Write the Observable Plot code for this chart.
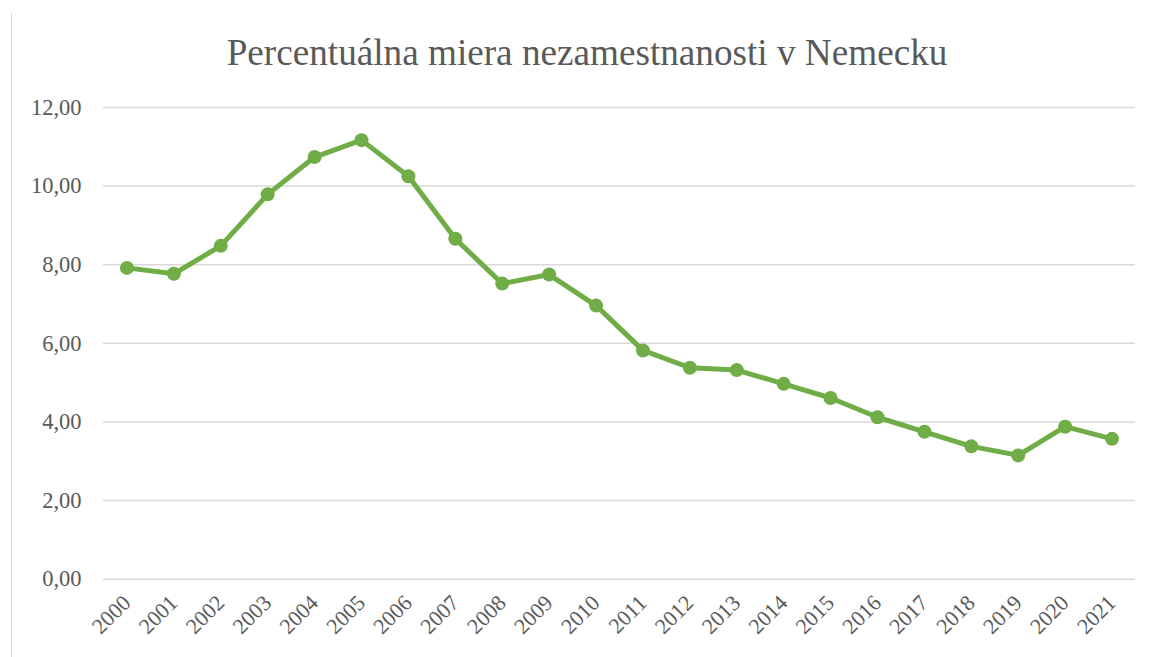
<!DOCTYPE html>
<html>
<head>
<meta charset="utf-8">
<script src="https://cdn.jsdelivr.net/npm/d3@7"></script>
<script src="https://cdn.jsdelivr.net/npm/@observablehq/plot@0.6"></script>
<style>
  html, body { margin: 0; padding: 0; background: #fff; }
  #wrap { position: relative; width: 1154px; height: 657px; overflow: hidden; background: #fff; }
  #border { position: absolute; left: 10.5px; top: 13px; width: 0; height: 660px; border-left: 1.3px solid #d9d9d9; }
  #title { position: absolute; left: 0; width: 1174px; top: 30px; text-align: center;
           font-family: "Liberation Serif", "Times New Roman", serif; font-size: 37.2px; color: #595959; line-height: 46px; }
  #chart { position: absolute; left: 0; top: 85px; }
</style>
</head>
<body>
<div id="wrap">
  <div id="border"></div>
  <div id="title">Percentuálna miera nezamestnanosti v Nemecku</div>
  <div id="chart"></div>
</div>
<script>
const years = ["2000","2001","2002","2003","2004","2005","2006","2007","2008","2009","2010","2011","2012","2013","2014","2015","2016","2017","2018","2019","2020","2021"];
const rates = [7.92, 7.77, 8.48, 9.79, 10.74, 11.17, 10.25, 8.66, 7.52, 7.75, 6.96, 5.82, 5.38, 5.32, 4.97, 4.61, 4.12, 3.75, 3.38, 3.15, 3.88, 3.57];
const yTicks = [0, 2, 4, 6, 8, 10, 12];

const data = years.map((y, i) => ({year: y, rate: rates[i]}));
const fmt = d => d.toFixed(2).replace(".", ",");
const green = "#70ad47";
const grey = "#595959";

const plot = Plot.plot({
  width: 1154,
  height: 572,
  marginLeft: 103,
  marginRight: 19,
  marginTop: 22,
  marginBottom: 78.3,
  style: {fontFamily: "'Liberation Serif', 'Times New Roman', serif", color: grey, background: "transparent", overflow: "visible"},
  x: {type: "point", domain: years, padding: 0.5, round: false},
  y: {domain: [0, 12]},
  marks: [
    Plot.gridY(yTicks, {stroke: "#d9d9d9", strokeOpacity: 1, strokeWidth: 1.5}),
    Plot.axisY(yTicks, {tickSize: 0, tickPadding: 22, tickFormat: fmt, fontSize: 22.5, fill: grey, label: null}),
    Plot.axisX({tickSize: 0, tickRotate: -45, tickPadding: 20, fontSize: 22, fill: grey, label: null}),
    Plot.line(data, {x: "year", y: "rate", stroke: green, strokeWidth: 5, strokeLinejoin: "round"}),
    Plot.dot(data, {x: "year", y: "rate", fill: green, r: 7})
  ]
});
document.getElementById("chart").appendChild(plot);
</script>
</body>
</html>
